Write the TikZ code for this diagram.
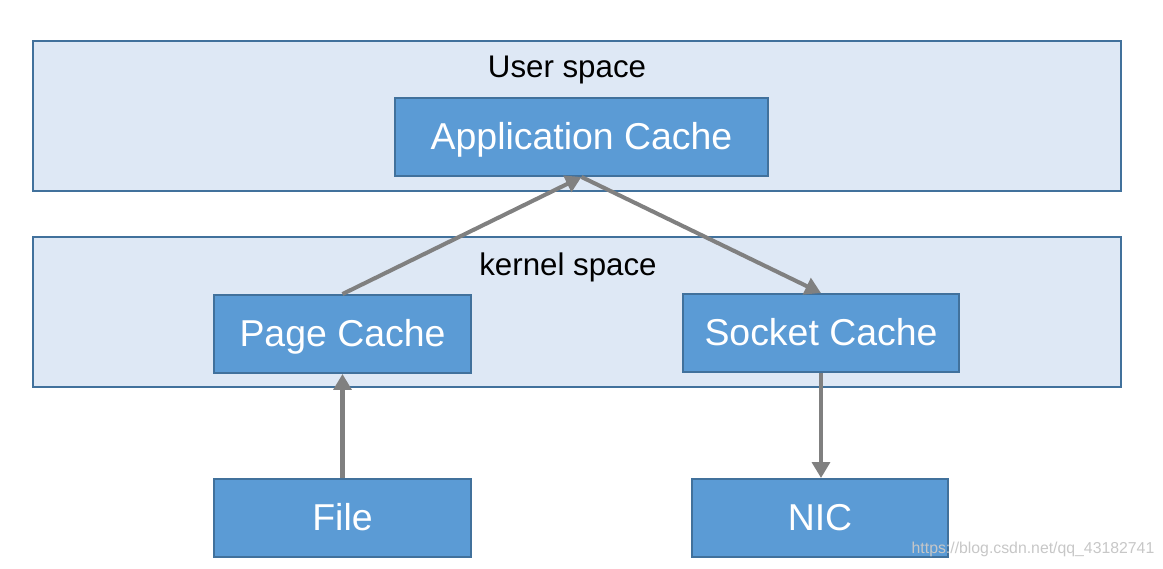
\documentclass[tikz,border=0pt]{standalone}
\usepackage{fontspec}
\setmainfont{Liberation Sans}
\usepackage{xcolor}
\usetikzlibrary{arrows.meta}

\definecolor{panelfill}{HTML}{DEE8F5}
\definecolor{boxfill}{HTML}{5B9BD5}
\definecolor{boxline}{HTML}{41719C}
\definecolor{arrowgray}{HTML}{808080}

\begin{document}
\begin{tikzpicture}[
        x=0.02cm, y=-0.02cm,
        panel/.style={draw=boxline, fill=panelfill, line width=1.1pt,
            minimum width=21.76cm, minimum height=3cm, inner sep=0pt},
        cachebox/.style={draw=boxline, fill=boxfill, line width=1.1pt,
            minimum height=1.56cm, inner sep=0pt, text=white,
            text height=14.6pt, text depth=0pt,
            font=\fontsize{21.3}{24}\selectfont},
        spacelabel/.style={font=\fontsize{17.8}{21}\selectfont},
        flow/.style={draw=arrowgray, line width=2.3pt,
            -{Triangle[length=9pt, width=10pt]}}]
        \useasboundingbox (0,0) rectangle (1163,568);
        % PANELS
        % user space
        \node[panel] (user) at (577,116) {};
        \node[spacelabel] (userlbl) at (567,70) {User space};
        % kernel space
        \node[panel] (kernel) at (577,312) {};
        \node[spacelabel] (kernellbl) at (568,267) {kernel space};

        % NODES
        \node[cachebox, minimum width=7.46cm] (App) at (581.5,137) {Application Cache};
        \node[cachebox, minimum width=5.14cm] (Page) at (342.5,334) {Page Cache};
        \node[cachebox, minimum width=5.52cm] (Socket) at (821,333) {Socket Cache};
        \node[cachebox, minimum width=5.14cm] (File) at (342.5,518) {File};
        \node[cachebox, minimum width=5.12cm] (NIC) at (820,518) {NIC};
        % watermark
        \node[text=black!22, font=\fontsize{9}{10}\selectfont] (mark) at (1033,549) {https://blog.csdn.net/qq\_43182741};

        % ARROWS
        \draw[flow] (Page.north)--(App.south);
        \draw[flow] (App.south)--(Socket.north);
        \draw[flow] (File.north)--(Page.south);
        \draw[flow] (Socket.south)--(Socket.south |- NIC.north);
\end{tikzpicture}
\end{document}
